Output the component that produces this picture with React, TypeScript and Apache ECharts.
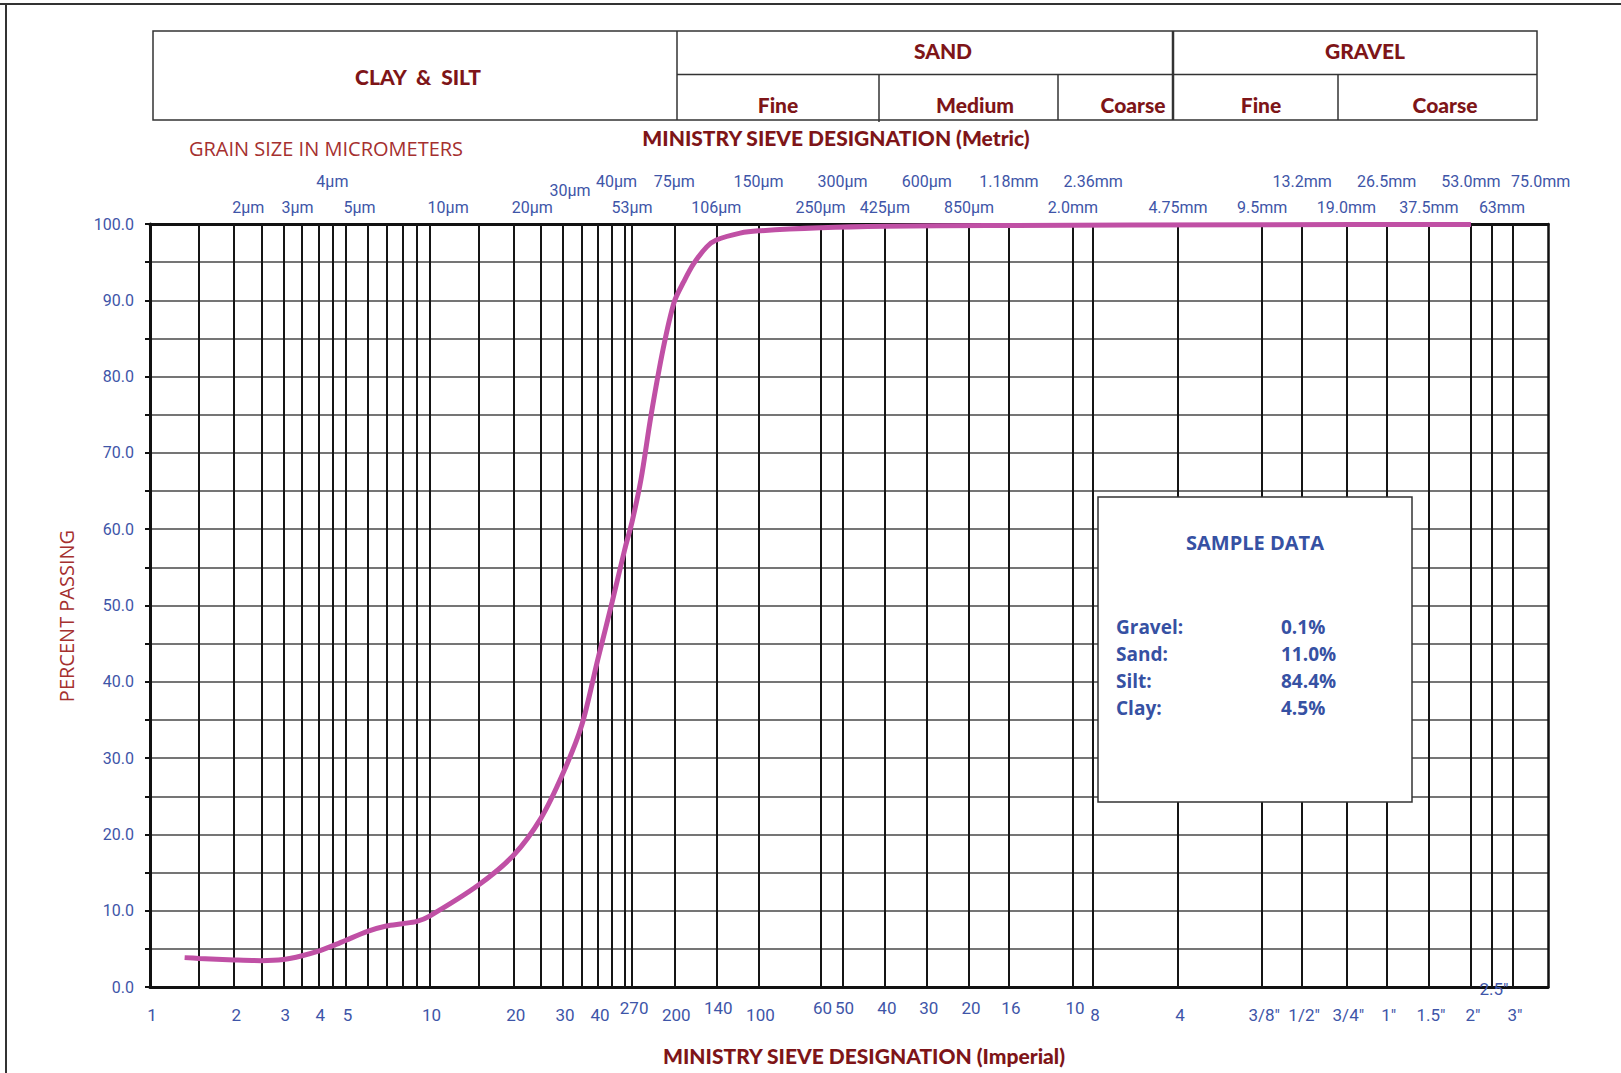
import React, { useEffect, useRef } from 'react';
import * as echarts from 'echarts';

// Grain size (µm) vs percent passing
const gradationCurve: [number, number][] = [
  [1.33, 3.85], [1.5, 3.75], [2, 3.55], [2.5, 3.45], [3, 3.6], [3.5, 4.1], [4, 4.7], [4.5, 5.4],
  [5, 6.1], [6, 7.3], [7, 8.0], [8, 8.3], [9, 8.6], [10, 9.3], [15, 13.4], [20, 17.3], [25, 22.1],
  [30, 28.0], [35, 34.3], [40, 43.0], [45, 50.5], [50, 57.5], [53, 61.0], [57, 66.5], [62, 75.0],
  [68.5, 83.7], [75, 89.8], [81, 92.4], [88, 94.8], [98, 97.0], [106, 97.9], [129, 98.8],
  [150, 99.1], [250, 99.5], [425, 99.7], [1000, 99.8], [10000, 99.9], [53000, 99.95],
];

// Vertical reference lines (µm)
const sieveLines = [
  1.5, 2, 2.5, 3, 3.5, 4, 4.5, 5, 6, 7, 8, 9, 10, 15, 20, 25, 30, 35, 40, 45, 50, 53, 75, 106, 150,
  250, 300, 425, 600, 850, 1180, 2000, 2360, 4750, 9500, 13200, 19000, 26500, 37500, 53000, 63000,
  75000,
];

// Metric designations (top), upper, middle and lower rows
const metricUpper: [number, string][] = [
  [4, '4µm'], [40, '40µm'], [75, '75µm'], [150, '150µm'], [300, '300µm'],
  [600, '600µm'], [1180, '1.18mm'], [2360, '2.36mm'], [13200, '13.2mm'], [26500, '26.5mm'],
  [53000, '53.0mm'], [75000, '75.0mm'],
];
const metricMiddle: [number, string][] = [[30, '30µm']];
const metricLower: [number, string][] = [
  [2, '2µm'], [3, '3µm'], [5, '5µm'], [10, '10µm'], [20, '20µm'], [53, '53µm'], [106, '106µm'],
  [250, '250µm'], [425, '425µm'], [850, '850µm'], [2000, '2.0mm'], [4750, '4.75mm'],
  [9500, '9.5mm'], [19000, '19.0mm'], [37500, '37.5mm'], [63000, '63mm'],
];

// Imperial designations (bottom)
const imperialLow: [number, string][] = [
  [1, '1'], [2, '2'], [3, '3'], [4, '4'], [5, '5'], [10, '10'], [20, '20'], [30, '30'], [40, '40'],
  [75, '200'], [150, '100'], [2360, '8'], [4750, '4'], [9500, '3/8"'], [13200, '1/2"'],
  [19000, '3/4"'], [26500, '1"'], [37500, '1.5"'], [53000, '2"'], [75000, '3"'],
];
const imperialHigh: [number, string][] = [
  [53, '270'], [106, '140'], [250, '60'], [300, '50'], [425, '40'], [600, '30'], [850, '20'],
  [1180, '16'], [2000, '10'],
];
const imperialInside: [number, string][] = [[63000, '2.5"']];

const sampleLabels = ['Gravel:', 'Sand:', 'Silt:', 'Clay:'];
const sampleValues = ['0.1%', '11.0%', '84.4%', '4.5%'];

const BLUE = '#3E55A8';
const BOX_BLUE = '#3651A3';
const DARKRED = '#7E1518';
const RED = '#A5302F';
const NARROW = "'Liberation Sans Narrow', 'Arial Narrow', Roboto, sans-serif";
const HEAD = "Lato, 'Open Sans', sans-serif";

function txt(text: string, x: number, y: number, font: string, fill: string, align = 'center', extra: any = {}) {
  return {
    type: 'text',
    x,
    y,
    z: 60,
    silent: true,
    style: { text, font, fill, align, verticalAlign: 'middle', textAlign: align, textVerticalAlign: 'middle' },
    ...extra,
  };
}

function ln(x1: number, y1: number, x2: number, y2: number, w = 1.5, color = '#333') {
  return { type: 'line', z: 40, silent: true, shape: { x1, y1, x2, y2 }, style: { stroke: color, lineWidth: w } };
}

export default function App() {
  const ref = useRef<HTMLDivElement>(null);

  useEffect(() => {
    const chart = echarts.init(ref.current!, null, { renderer: 'svg' });
    const hiddenAxis = {
      axisTick: { show: false },
      axisLabel: { show: false },
      splitLine: { show: false },
    };
    const option: any = {
      animation: false,
      backgroundColor: '#ffffff',
      grid: { left: 150, top: 224, right: 73, bottom: 86, show: false },
      xAxis: [
        {
          type: 'log', logBase: 10, min: 1, max: 100000, position: 'bottom',
          axisLine: { show: true, onZero: false, lineStyle: { color: '#111', width: 3 } },
          ...hiddenAxis,
        },
        {
          type: 'log', logBase: 10, min: 1, max: 100000, position: 'top',
          axisLine: { show: true, onZero: false, lineStyle: { color: '#111', width: 3 } },
          ...hiddenAxis,
        },
      ],
      yAxis: [
        {
          type: 'value', min: 0, max: 100, interval: 5, position: 'left',
          axisLine: { show: true, onZero: false, lineStyle: { color: '#111', width: 3 } },
          axisTick: { show: true, length: 5, lineStyle: { color: '#111', width: 2 } },
          axisLabel: {
            formatter: (v: number) => (v % 10 === 0 ? v.toFixed(1) : ''),
            color: BLUE, fontFamily: NARROW, fontSize: 16, margin: 16,
          },
          splitLine: { show: true, lineStyle: { color: '#474747', width: 1.5 } },
        },
        {
          type: 'value', min: 0, max: 100, position: 'right',
          axisLine: { show: true, onZero: false, lineStyle: { color: '#111', width: 2.5 } },
          ...hiddenAxis,
        },
      ],
      series: [
        {
          type: 'line',
          name: 'sieves',
          data: [[1, 0]],
          showSymbol: false,
          symbol: 'none',
          lineStyle: { opacity: 0 },
          silent: true,
          z: 3,
          markLine: {
            silent: true,
            symbol: ['none', 'none'],
            label: { show: false },
            lineStyle: { color: '#151515', width: 2, type: 'solid' },
            emphasis: { disabled: true },
            data: sieveLines.map((v) => ({ xAxis: v })),
          },
        },
        {
          type: 'line',
          name: 'Percent passing',
          data: gradationCurve,
          smooth: 0.3,
          showSymbol: false,
          symbol: 'none',
          lineStyle: { color: '#C050A5', width: 5 },
          z: 5,
        },
      ],
    };
    chart.setOption(option);

    const px = (v: number) => chart.convertToPixel({ xAxisIndex: 0 }, v) as number;
    const py = (v: number) => chart.convertToPixel({ yAxisIndex: 0 }, v) as number;
    const top = py(100);
    const bottom = py(0);

    const g: any[] = [];
    // outer frame
    g.push(ln(0, 4, 1621, 4, 2, '#333'));
    g.push(ln(6, 4, 6, 1073, 2, '#333'));

    // header table
    g.push({ type: 'rect', z: 40, silent: true, shape: { x: 153, y: 31, width: 1384, height: 89 }, style: { fill: '#fff', stroke: '#333', lineWidth: 1.5 } });
    g.push(ln(677, 31, 677, 120));
    g.push(ln(677, 74.5, 1537, 74.5));
    g.push(ln(1173, 31, 1173, 120, 2.5));
    g.push(ln(879, 74.5, 879, 122));
    g.push(ln(1058, 74.5, 1058, 120));
    g.push(ln(1338, 74.5, 1338, 120));
    const hb = `900 21px ${HEAD}`;
    g.push(txt('CLAY  &  SILT', 418, 76, hb, DARKRED));
    g.push(txt('SAND', 943, 50, hb, DARKRED));
    g.push(txt('GRAVEL', 1365, 50, hb, DARKRED));
    g.push(txt('Fine', 778, 104, hb, DARKRED));
    g.push(txt('Medium', 975, 104, hb, DARKRED));
    g.push(txt('Coarse', 1133, 104, hb, DARKRED));
    g.push(txt('Fine', 1261, 104, hb, DARKRED));
    g.push(txt('Coarse', 1445, 104, hb, DARKRED));

    // titles
    g.push(txt('MINISTRY SIEVE DESIGNATION (Metric)', 836, 137, hb, DARKRED));
    g.push(txt('MINISTRY SIEVE DESIGNATION (Imperial)', 864, 1055, hb, DARKRED));
    g.push(txt('GRAIN SIZE IN MICROMETERS', 326, 148, `20px 'Open Sans', sans-serif`, RED));
    g.push(txt('PERCENT PASSING', 66, 616, `20px 'Open Sans', sans-serif`, RED, 'center', { rotation: Math.PI / 2 }));

    // metric labels (top)
    const mf = `16px ${NARROW}`;
    const leftAligned = (s: number) => s < 30 || s === 40 || s === 75000;
    metricUpper.forEach(([s, t]) => {
      g.push(txt(t, leftAligned(s) ? px(s) - 2 : px(s), top - 43, mf, BLUE, leftAligned(s) ? 'left' : 'center'));
    });
    metricMiddle.forEach(([s, t]) => {
      g.push(txt(t, px(s) + 7, top - 34, mf, BLUE, 'center'));
    });
    metricLower.forEach(([s, t]) => {
      g.push(txt(t, leftAligned(s) ? px(s) - 2 : px(s) + (s === 63000 ? 10 : 0), top - 17, mf, BLUE, leftAligned(s) ? 'left' : 'center'));
    });

    // imperial labels (bottom)
    const bf = `17px ${NARROW}`;
    imperialLow.forEach(([s, t]) => g.push(txt(t, px(s) + 2, bottom + 28, bf, BLUE)));
    imperialHigh.forEach(([s, t]) => g.push(txt(t, px(s) + 2, bottom + 21, bf, BLUE)));
    imperialInside.forEach(([s, t]) => g.push(txt(t, px(s) + 2, bottom + 2, bf, BLUE)));

    // sample data box
    g.push({ type: 'rect', z: 80, silent: true, shape: { x: 1098, y: 497, width: 314, height: 305 }, style: { fill: '#fff', stroke: '#333', lineWidth: 1.5 } });
    const sf = `bold 20px 'Open Sans', sans-serif`;
    g.push(txt('SAMPLE DATA', 1255, 542, sf, BOX_BLUE, 'center', { z: 90 }));
    const rowY = [627, 654, 681, 708];
    sampleLabels.forEach((l, i) => g.push(txt(l, 1116, rowY[i], `bold 19px 'Open Sans', sans-serif`, BOX_BLUE, 'left', { z: 90 })));
    sampleValues.forEach((v, i) => g.push(txt(v, 1281, rowY[i], `bold 19px 'Open Sans', sans-serif`, BOX_BLUE, 'left', { z: 90 })));

    chart.setOption({ graphic: g });
    return () => chart.dispose();
  }, []);

  return (
    <div
      ref={ref}
      style={{ position: 'fixed', left: 0, top: 0, width: 1621, height: 1073, background: '#fff' }}
    />
  );
}
